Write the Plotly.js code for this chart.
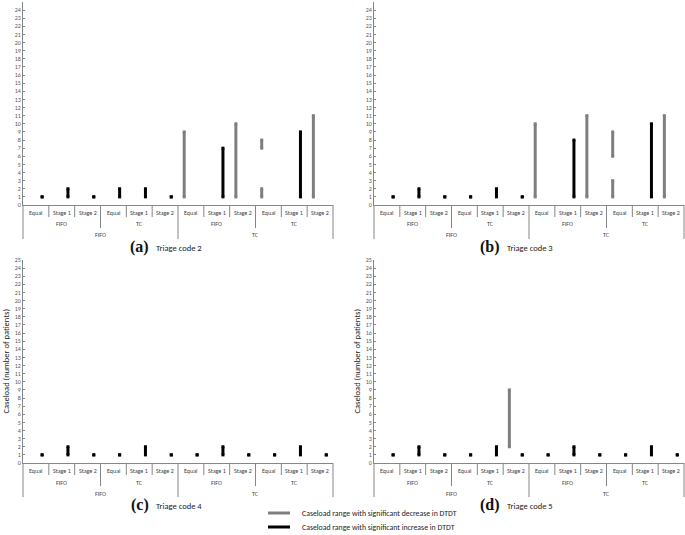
<!DOCTYPE html>
<html><head><meta charset="utf-8">
<script src="https://cdn.plot.ly/plotly-3.0.1.min.js"></script>
<style>html,body{margin:0;padding:0;background:#fff}#chart{width:685px;height:535px}</style>
</head><body><div id="chart"></div>
<script>
// ---- categories (three-level x axis) ----
const stageLabels = ["Equal","Stage 1","Stage 2","Equal","Stage 1","Stage 2","Equal","Stage 1","Stage 2","Equal","Stage 1","Stage 2"];
const innerPolicy = ["FIFO","FIFO","FIFO","TC","TC","TC","FIFO","FIFO","FIFO","TC","TC","TC"];
const outerPolicy = ["FIFO","FIFO","FIFO","FIFO","FIFO","FIFO","TC","TC","TC","TC","TC","TC"];
const yTickVals = [0,1,2,3,4,5,6,7,8,9,10,11,12,13,14,15,16,17,18,19,20,21,22,23,24,25];

const panelLetters = ["(a)","(b)","(c)","(d)"];
const panelTitles = ["Triage code 2","Triage code 3","Triage code 4","Triage code 5"];
const legendNames = ["Caseload range with significant decrease in DTDT","Caseload range with significant increase in DTDT"];
const yTitle = "Caseload (number of patients)";

// ---- (a) Triage code 2 ----
const incLowA  = [1,1,1,1,1,1,null,1,null,null,1,null];
const incHighA = [1,2,1,2,2,1,null,7,null,null,9,null];
const decLowA  = [null,null,null,null,null,null,1,null,1,7,null,1];
const decHighA = [null,null,null,null,null,null,9,null,10,8,null,11];
const decLow2A  = [null,null,null,null,null,null,null,null,null,1,null,null];
const decHigh2A = [null,null,null,null,null,null,null,null,null,2,null,null];

// ---- (b) Triage code 3 ----
const incLowB  = [1,1,1,1,1,1,null,1,null,null,1,null];
const incHighB = [1,2,1,1,2,1,null,8,null,null,10,null];
const decLowB  = [null,null,null,null,null,null,1,null,1,6,null,1];
const decHighB = [null,null,null,null,null,null,10,null,11,9,null,11];
const decLow2B  = [null,null,null,null,null,null,null,null,null,1,null,null];
const decHigh2B = [null,null,null,null,null,null,null,null,null,3,null,null];

// ---- (c) Triage code 4 ----
const incLowC  = [1,1,1,1,1,1,1,1,1,1,1,1];
const incHighC = [1,2,1,1,2,1,1,2,1,1,2,1];
const decLowC  = [null,null,null,null,null,null,null,null,null,null,null,null];
const decHighC = [null,null,null,null,null,null,null,null,null,null,null,null];

// ---- (d) Triage code 5 ----
const incLowD  = [1,1,1,1,1,1,1,1,1,1,1,1];
const incHighD = [1,2,1,1,2,1,1,2,1,1,2,1];
const decLowD  = [null,null,null,null,null,2,null,null,null,null,null,null];
const decHighD = [null,null,null,null,null,9,null,null,null,null,null,null];

// ---------------- drawing ----------------
const W = 685, H = 535;
const GREY = "#7f7f7f", BLACK = "#000000", AXIS = "#868686", TXT = "#404040";
const FONT = "Carlito, Lato, 'Liberation Sans', sans-serif";

const panels = [
  {ax:"", x0:23, x1:333, yTop:2, yBot:205, inc:[incLowA,incHighA], dec:[[decLowA,decHighA],[decLow2A,decHigh2A]], yt:false},
  {ax:"2", x0:374, x1:684, yTop:2, yBot:205, inc:[incLowB,incHighB], dec:[[decLowB,decHighB],[decLow2B,decHigh2B]], yt:false},
  {ax:"3", x0:23, x1:333, yTop:260, yBot:463, inc:[incLowC,incHighC], dec:[[decLowC,decHighC]], yt:true},
  {ax:"4", x0:374, x1:684, yTop:260, yBot:463, inc:[incLowD,incHighD], dec:[[decLowD,decHighD]], yt:true}
];

const py = v => 1 - v / H;
const px = v => v / W;
const n = stageLabels.length;
const traces = [], shapes = [], annotations = [];
const layout = {
  width: W, height: H, margin: {l:0, r:0, t:0, b:0},
  paper_bgcolor: "#fff", plot_bgcolor: "rgba(0,0,0,0)",
  showlegend: false, font: {family: FONT, color: TXT}
};

function segs(lows, highs, off) {
  const xs = [], ys = [];
  for (let i = 0; i < lows.length; i++) {
    if (lows[i] == null) continue;
    xs.push(i + off, i + off, null);
    ys.push(lows[i], highs[i], null);
  }
  return {xs, ys};
}

function runs(keyFn) {
  const out = [];
  let start = 0;
  for (let i = 1; i <= n; i++) {
    if (i === n || keyFn(i) !== keyFn(start)) {
      out.push({start, end: i - 1});
      start = i;
    }
  }
  return out;
}

panels.forEach((p, pi) => {
  const xa = "x" + p.ax, ya = "y" + p.ax;
  const xKey = "xaxis" + p.ax, yKey = "yaxis" + p.ax;
  layout[xKey] = {
    domain: [px(p.x0), px(p.x1)], anchor: ya, range: [-0.5, n - 0.5],
    showline: true, linecolor: AXIS, linewidth: 1, showticklabels: false,
    ticks: "", showgrid: false, zeroline: false, fixedrange: true
  };
  layout[yKey] = {
    domain: [py(p.yBot), py(p.yTop)], anchor: xa, range: [0, 25],
    tickvals: yTickVals, ticks: "inside", ticklen: 2, tickcolor: AXIS,
    showline: true, linecolor: AXIS, linewidth: 1, showgrid: false, zeroline: false,
    tickfont: {size: 6, color: "#595959", family: FONT}, fixedrange: true
  };

  // grey ranges (decrease) left of category centre, black ranges (increase) right
  p.dec.forEach(([lo, hi]) => {
    const s = segs(lo, hi, -0.26);
    traces.push({type:"scatter", mode:"lines+markers", x:s.xs, y:s.ys, xaxis:xa, yaxis:ya,
      line:{color:GREY, width:3}, marker:{symbol:"square", size:3, color:GREY},
      hoverinfo:"skip", cliponaxis:false, connectgaps:false});
  });
  const si = segs(p.inc[0], p.inc[1], 0.24);
  traces.push({type:"scatter", mode:"lines+markers", x:si.xs, y:si.ys, xaxis:xa, yaxis:ya,
    line:{color:BLACK, width:3}, marker:{symbol:"square", size:3, color:BLACK},
    hoverinfo:"skip", cliponaxis:false, connectgaps:false});

  // separators of the three-level category axis
  for (let k = 0; k <= n; k++) {
    let len = 12;
    const edge = (k === 0 || k === n);
    if (edge || outerPolicy[k-1] !== outerPolicy[k]) len = 34;
    else if (innerPolicy[k-1] !== innerPolicy[k]) len = 23;
    shapes.push({type:"line", xref:xa + " domain", yref:"paper",
      x0:k / n, x1:k / n, y0:py(p.yBot), y1:py(p.yBot + len),
      line:{color:AXIS, width:1}});
  }
  // level 1 labels
  stageLabels.forEach((lab, i) => {
    annotations.push({xref:xa, yref:"paper", x:i, y:py(p.yBot + 8), text:lab,
      showarrow:false, xanchor:"center", yanchor:"middle", font:{size:6, color:TXT}});
  });
  // level 2 labels
  runs(i => outerPolicy[i] + "|" + innerPolicy[i]).forEach(r => {
    annotations.push({xref:xa, yref:"paper", x:(r.start + r.end) / 2, y:py(p.yBot + 19.5),
      text:innerPolicy[r.start], showarrow:false, xanchor:"center", yanchor:"middle",
      font:{size:6, color:TXT}});
  });
  // level 3 labels
  runs(i => outerPolicy[i]).forEach(r => {
    annotations.push({xref:xa, yref:"paper", x:(r.start + r.end) / 2, y:py(p.yBot + 30.5),
      text:outerPolicy[r.start], showarrow:false, xanchor:"center", yanchor:"middle",
      font:{size:6, color:TXT}});
  });
  // captions
  const cx = (p.x0 + p.x1) / 2 - 27;
  annotations.push({xref:"paper", yref:"paper", x:px(cx), y:py(p.yBot + 42),
    text:"<b>" + panelLetters[pi] + "</b>", showarrow:false, xanchor:"right", yanchor:"middle",
    font:{size:16, color:"#111", family:"'Liberation Serif', 'DejaVu Serif', serif"}});
  annotations.push({xref:"paper", yref:"paper", x:px(cx + 3), y:py(p.yBot + 42.5),
    text:panelTitles[pi], showarrow:false, xanchor:"left", yanchor:"middle",
    font:{size:8.5, color:"#222"}});
  // y-axis title (bottom panels)
  if (p.yt) {
    annotations.push({xref:"paper", yref:"paper", x:px(p.x0 - 18), y:py((p.yTop + p.yBot) / 2),
      text:yTitle, textangle:-90, showarrow:false, xanchor:"center", yanchor:"middle",
      font:{size:8.5, color:"#222"}});
  }
});

// legend
[[GREY, 513], [BLACK, 527]].forEach(([c, yy], i) => {
  shapes.push({type:"line", xref:"paper", yref:"paper", x0:px(268), x1:px(290), y0:py(yy), y1:py(yy),
    line:{color:c, width:3}});
  annotations.push({xref:"paper", yref:"paper", x:px(300), y:py(yy), text:legendNames[i],
    showarrow:false, xanchor:"left", yanchor:"middle", font:{size:7.8, color:"#222"}});
});

layout.shapes = shapes;
layout.annotations = annotations;
Plotly.newPlot("chart", traces, layout, {staticPlot:true, displayModeBar:false});
</script>
</body></html>
